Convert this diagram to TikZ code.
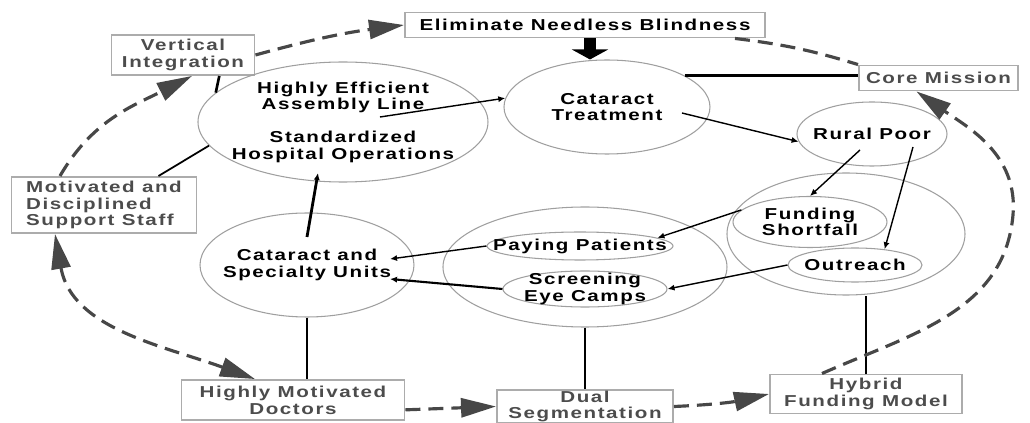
\documentclass[tikz,border=0pt]{standalone}
\usepackage{fontspec}
\setmainfont{Liberation Sans}[FakeStretch=1.3,LetterSpace=10]
\usepackage{tikz}
\usetikzlibrary{shapes.geometric}
\usetikzlibrary{arrows.meta}

\begin{document}
\begin{tikzpicture}[goalbox/.style={draw=gray!65, line width=1.1pt, rectangle, inner sep=0pt, align=center, text=black!70, font=\fontsize{9}{9.5}\selectfont\bfseries},
    oval/.style={draw=gray!75, line width=0.6pt, ellipse, inner xsep=-0.45cm, inner ysep=-0.15cm, align=center, font=\fontsize{9}{9.5}\selectfont\bfseries},
    link/.style={line width=1.5pt},
    flow/.style={line width=0.8pt, -{Latex[length=4pt,width=3.5pt]}},
    cyc/.style={draw=black!72, line width=1.8pt, dash pattern=on 0.3cm off 0.16cm, -{Triangle[length=0.7cm,width=0.38cm,fill=black!72]}}]

    \useasboundingbox (-10.3,4.22) rectangle (10.3,-4.24);

    \node[goalbox, text=black, minimum width=7.2cm, minimum height=0.5cm] (1) at (1.40,3.72) {Eliminate Needless Blindness};
    \node[oval, minimum width=4.12cm, minimum height=1.88cm] (2) at (1.84,2.08) {Cataract\\Treatment};
    \node[goalbox, minimum width=2.86cm, minimum height=0.8cm] (3) at (-6.64,3.12) {Vertical\\Integration};
    \node[oval, minimum width=5.8cm, minimum height=2.4cm] (4) at (-3.44,1.78) {Highly Efficient\\Assembly Line\\[9pt]Standardized\\Hospital Operations};
    \node[goalbox, minimum width=3.18cm, minimum height=0.5cm] (5) at (8.47,2.66) {Core Mission};
    \node[goalbox, align=left, minimum width=3.7cm, minimum height=1.12cm] (6) at (-8.22,0.12) {Motivated and\\Disciplined\\Support Staff};
    \node[oval, minimum width=3.0cm, minimum height=1.28cm] (7) at (7.14,1.54) {Rural Poor};

    \node[oval, minimum width=4.76cm, minimum height=2.44cm] (8) at (6.62,-0.46) {};
    \node[oval, minimum width=3.08cm, minimum height=1.02cm] (9) at (5.90,-0.22) {Funding\\Shortfall};
    \node[oval, minimum width=2.68cm, minimum height=0.68cm] (10) at (6.80,-1.08) {Outreach};

    \node[oval, minimum width=5.68cm, minimum height=2.4cm] (11) at (1.40,-1.12) {};
    \node[oval, minimum width=3.72cm, minimum height=0.56cm] (12) at (1.30,-0.70) {Paying Patients};
    \node[oval, minimum width=3.28cm, minimum height=0.72cm] (13) at (1.40,-1.56) {Screening\\Eye Camps};

    \node[oval, minimum width=4.28cm, minimum height=2.08cm] (14) at (-4.16,-1.08) {Cataract and\\Specialty Units};
    \node[goalbox, minimum width=4.46cm, minimum height=0.8cm] (15) at (-4.44,-3.78) {Highly Motivated\\Doctors};
    \node[goalbox, minimum width=3.52cm, minimum height=0.66cm] (16) at (1.40,-3.91) {Dual\\Segmentation};
    \node[goalbox, minimum width=3.84cm, minimum height=0.78cm] (17) at (7.02,-3.66) {Hybrid\\Funding Model};

    \coordinate (r) at (9.96,-0.08);

    % solid links
    \draw[link] (3.-30.5) -- (4.167);
    \draw[line width=1pt] (6.28) -- (4.190);
    \draw[link] (2.22) -- (2.22 -| 5.west);
    \draw[link] (14.south) -- (14.south |- 15.north);
    \draw[link] (11.south) -- (16.north);
    \draw[link] (17.north) -- (17.north |- 8.south);

    \draw[line width=0.24cm, -{Triangle[length=0.2cm,width=0.72cm]}] ([xshift=0.1cm]1.south) -- ([xshift=0.1cm]1.south |- 2.north);

    % arrows
    \draw[flow] ([shift={(0.74,0.10)}]4.center) -- (2.175);
    \draw[flow] ([shift={(1.50,-0.12)}]2.center) -- (7.186);
    \draw[flow] ([shift={(-0.24,-0.32)}]7.center) -- (9.north);
    \draw[flow] ([shift={(0.82,-0.26)}]7.center) -- (10.28);
    \draw[flow] (9.170) -- (12.6);
    \draw[flow] (10.west) -- (13.east);
    \draw[flow] (12.west) -- ([shift={(1.66,0.12)}]14.center);
    \draw[flow, line width=1.2pt] (13.west) -- ([shift={(1.66,-0.28)}]14.center);
    \draw[flow, line width=1.6pt] ([shift={(0,0.56)}]14.center) -- ([shift={(-0.50,-1.02)}]4.center);

    % dashed cycle
    \draw[cyc] ([xshift=-0.88cm]6.north) to[out=60,in=-153] ([xshift=0.18cm]3.south);
    \draw[cyc] (3.east) to[bend left=4] (1.west);
    \draw[cyc, -] ([xshift=3cm]1.south) to[bend left=5] (5.north west);
    \draw[cyc] ([xshift=-0.88cm]17.north) to[out=24,in=-95] (r) to[out=85,in=-35] ([xshift=-0.44cm]5.south);
    \draw[cyc] (16.east) to[bend right=5] (17.west);
    \draw[cyc] (15.-5) -- (16.west);
    \draw[cyc, {Triangle[length=0.7cm,width=0.38cm,fill=black!72]}-{Triangle[length=0.7cm,width=0.38cm,fill=black!72]}] ([xshift=-0.98cm]6.south) to[out=-80,in=160] ([xshift=-0.76cm]15.north);

\end{tikzpicture}
\end{document}
